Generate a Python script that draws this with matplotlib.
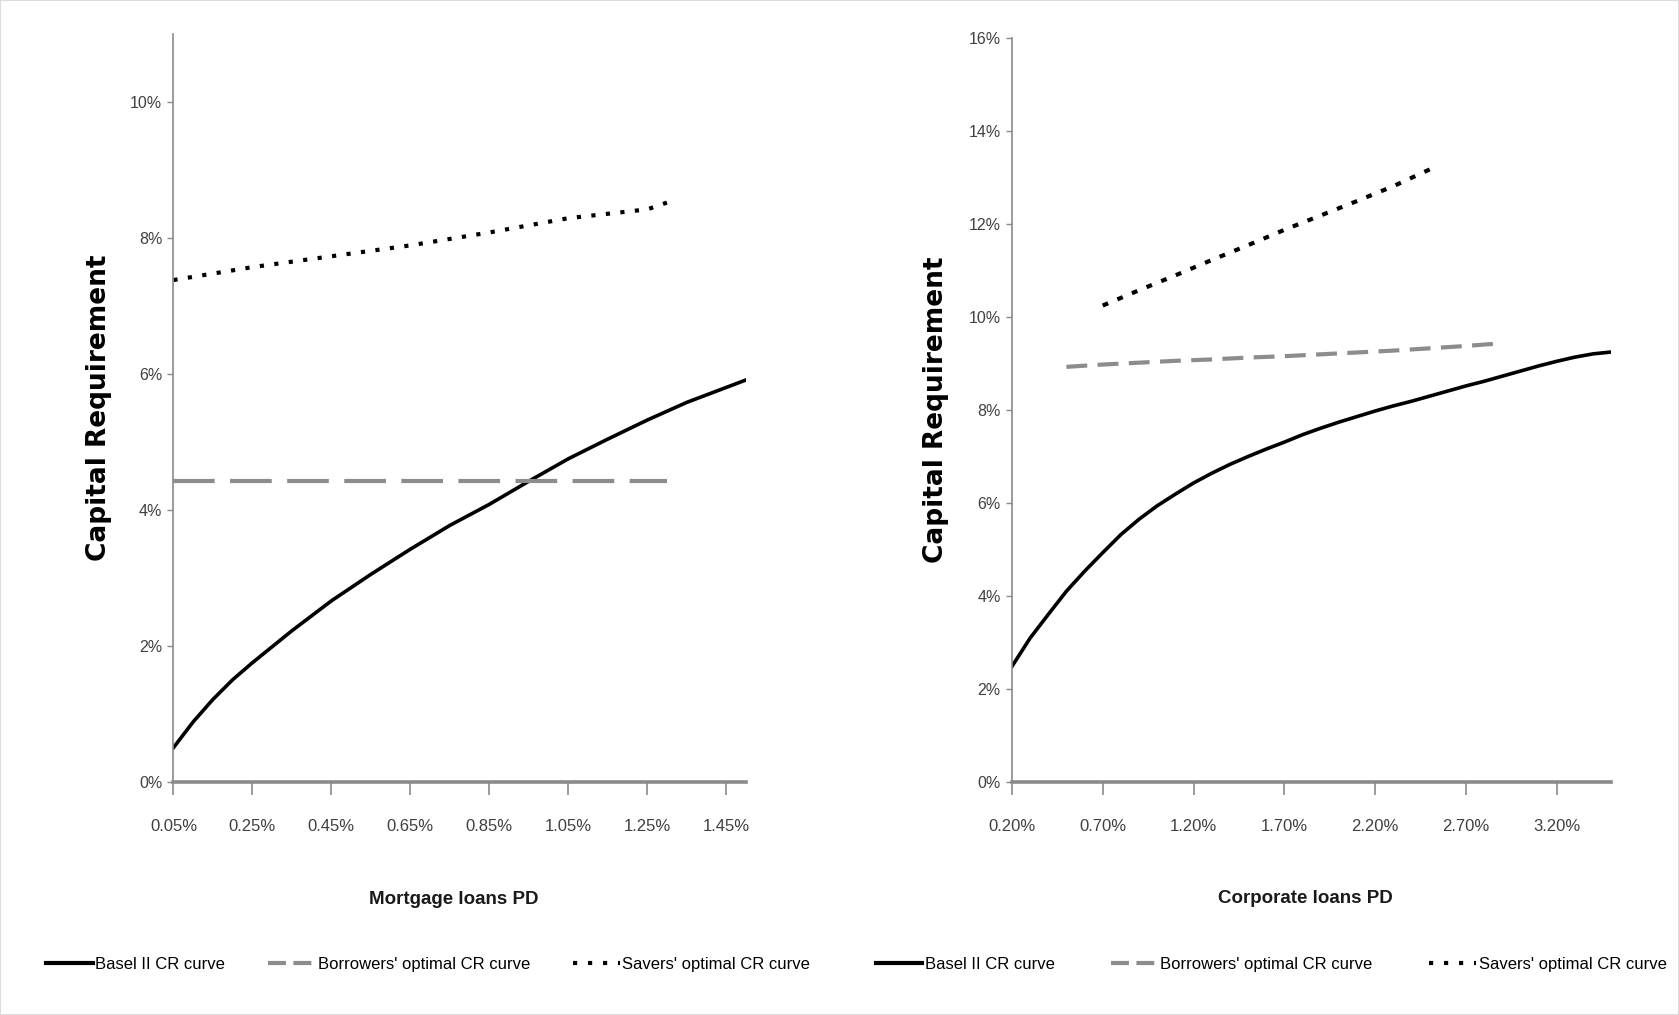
import matplotlib
matplotlib.use('Agg')
import matplotlib.pyplot as plt
from matplotlib.patches import Rectangle
from matplotlib.lines import Line2D

# mortgage panel (PD in %, CR in %)
mort_basel_pd = [0.05, 0.10, 0.15, 0.20, 0.25, 0.35, 0.45, 0.55, 0.65, 0.75,
                 0.85, 0.95, 1.05, 1.15, 1.25, 1.35, 1.45, 1.50]
mort_basel_cr = [0.50, 0.88, 1.21, 1.50, 1.75, 2.22, 2.66, 3.05, 3.42, 3.77,
                 4.08, 4.42, 4.75, 5.04, 5.32, 5.58, 5.80, 5.91]
mort_borr_pd = [0.05, 0.45, 0.85, 1.30]
mort_borr_cr = [4.43, 4.43, 4.43, 4.43]
mort_sav_pd = [0.05, 0.25, 0.45, 0.65, 0.85, 1.05, 1.25, 1.30]
mort_sav_cr = [7.38, 7.57, 7.73, 7.89, 8.08, 8.29, 8.42, 8.52]
mort_ticks = [0.05, 0.25, 0.45, 0.65, 0.85, 1.05, 1.25, 1.45]

# corporate panel
corp_basel_pd = [0.20, 0.30, 0.40, 0.50, 0.60, 0.70, 0.80, 0.90, 1.00, 1.10,
                 1.20, 1.30, 1.40, 1.50, 1.60, 1.70, 1.80, 1.90, 2.00, 2.10,
                 2.20, 2.30, 2.40, 2.50, 2.60, 2.70, 2.80, 2.90, 3.00, 3.10,
                 3.20, 3.30, 3.40, 3.50]
corp_basel_cr = [2.48, 3.09, 3.60, 4.10, 4.53, 4.93, 5.32, 5.65, 5.94, 6.19,
                 6.43, 6.64, 6.83, 7.00, 7.16, 7.31, 7.47, 7.61, 7.74, 7.86,
                 7.98, 8.09, 8.19, 8.30, 8.41, 8.52, 8.62, 8.73, 8.84, 8.95,
                 9.05, 9.14, 9.21, 9.25]
corp_borr_pd = [0.5, 0.7, 0.9, 1.1, 1.3, 1.5, 1.7, 1.9, 2.1, 2.3, 2.5, 2.7, 2.9]
corp_borr_cr = [8.93, 8.98, 9.02, 9.06, 9.09, 9.13, 9.16, 9.20, 9.24, 9.28,
                9.33, 9.38, 9.44]
corp_sav_pd = [0.7, 0.9, 1.1, 1.3, 1.5, 1.7, 1.9, 2.1, 2.3, 2.5]
corp_sav_cr = [10.25, 10.58, 10.90, 11.23, 11.55, 11.88, 12.19, 12.50, 12.82, 13.18]
corp_ticks = [0.20, 0.70, 1.20, 1.70, 2.20, 2.70, 3.20]

series_names = ['Basel II CR curve', "Borrowers' optimal CR curve",
                "Savers' optimal CR curve"]

narrow = ['Liberation Sans', 'DejaVu Sans']
axis_grey = '#8a8a8a'
dash_grey = '#8c8c8c'
label_col = '#404040'

fig = plt.figure(figsize=(16.79, 10.15), dpi=100)
fig.patches.append(Rectangle((0, 0), 1, 1, transform=fig.transFigure,
                             fill=False, edgecolor='#dcdcdc', lw=1.5))

ax1 = fig.add_axes([0.1033, 0.2299, 0.3410, 0.7366])
ax2 = fig.add_axes([0.6027, 0.2299, 0.3570, 0.7322])


def style_axis(ax, xlim, ylim, yticks, xticks, xlabel, ylab_x):
    ax.set_xlim(*xlim)
    ax.set_ylim(*ylim)
    ax.set_yticks(yticks)
    ax.set_yticklabels(['%d%%' % v for v in yticks], family=narrow,
                       fontsize=11.5, color=label_col)
    ax.set_xticks(xticks)
    ax.set_xticklabels(['%.2f%%' % v for v in xticks], family=narrow,
                       fontsize=12, color=label_col)
    for s in ['top', 'right']:
        ax.spines[s].set_visible(False)
    ax.spines['left'].set_color(axis_grey)
    ax.spines['left'].set_linewidth(1.2)
    ax.spines['bottom'].set_color(axis_grey)
    ax.spines['bottom'].set_linewidth(2.6)
    ax.tick_params(axis='y', length=4, width=1, color=axis_grey, pad=4)
    ax.tick_params(axis='x', length=9, width=1.2, color=axis_grey, pad=18)
    ax.set_ylabel('Capital Requirement', fontsize=19, fontweight='bold',
                  family='DejaVu Sans')
    ax.yaxis.set_label_coords(ylab_x, 0.5)
    ax.set_xlabel(xlabel, fontsize=13.5, fontweight='bold', family=narrow,
                  color='#1a1a1a')
    ax.xaxis.set_label_coords(0.49, -0.146)


ax1.plot(mort_basel_pd, mort_basel_cr, color='black', lw=2.6)
ax1.plot(mort_borr_pd, mort_borr_cr, color=dash_grey, lw=3,
         linestyle=(0, (10, 3.7)), dash_capstyle='butt')
ax1.plot(mort_sav_pd, mort_sav_cr, color='black', lw=3,
         linestyle=(0, (1, 2.5)), dash_capstyle='butt')
style_axis(ax1, (0.05, 1.50), (0, 11), [0, 2, 4, 6, 8, 10], mort_ticks,
           'Mortgage loans PD', -0.107)

ax2.plot(corp_basel_pd, corp_basel_cr, color='black', lw=2.6)
ax2.plot(corp_borr_pd, corp_borr_cr, color=dash_grey, lw=3,
         linestyle=(0, (5, 2.5)), dash_capstyle='butt')
ax2.plot(corp_sav_pd, corp_sav_cr, color='black', lw=3,
         linestyle=(0, (1.4, 2.4)), dash_capstyle='butt')
style_axis(ax2, (0.20, 3.50), (0, 16), [0, 2, 4, 6, 8, 10, 12, 14, 16],
           corp_ticks, 'Corporate loans PD', -0.105)

# legend keys drawn like the Excel legend (short dashes / square dots)
handles = [
    Line2D([], [], color='black', lw=3),
    Line2D([], [], color=dash_grey, lw=3, linestyle=(0, (4.3, 1.8)),
           dash_capstyle='butt'),
    Line2D([], [], color='black', lw=3, linestyle=(0, (1, 2.6)),
           dash_capstyle='butt'),
]
leg_kw = dict(loc='center', ncol=3, frameon=False, handlelength=2.8,
              handletextpad=0.15, prop={'family': narrow, 'size': 12},
              bbox_transform=fig.transFigure)
fig.legend(handles, series_names, bbox_to_anchor=(0.255, 0.050),
           columnspacing=2.6, **leg_kw)
fig.legend(handles, series_names, bbox_to_anchor=(0.757, 0.050),
           columnspacing=3.4, **leg_kw)

fig.savefig('out.png', dpi=100)
